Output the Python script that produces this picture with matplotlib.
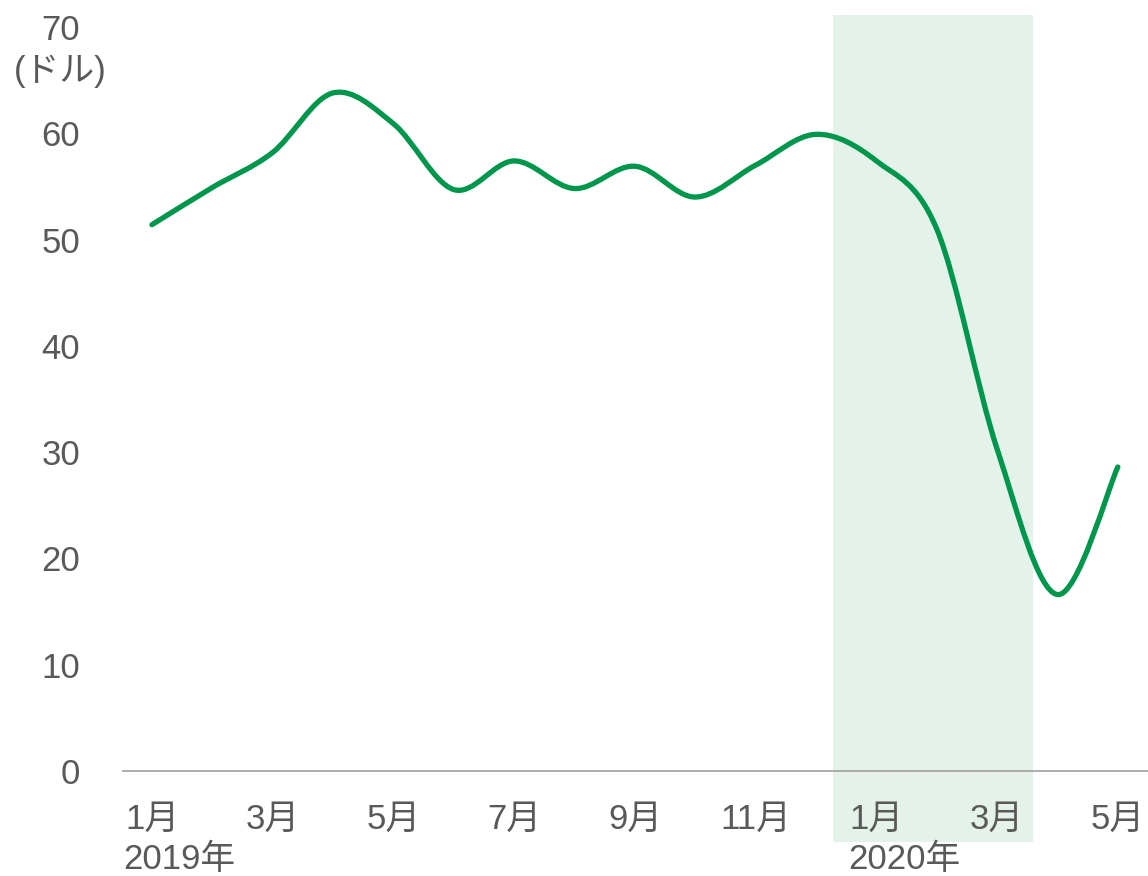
import matplotlib
matplotlib.use("Agg")
import matplotlib.pyplot as plt
from matplotlib.path import Path
from matplotlib.patches import PathPatch
import matplotlib.transforms as mtransforms
import numpy as np

# ---- data ----
months = ["1月", "2月", "3月", "4月", "5月", "6月", "7月", "8月", "9月", "10月", "11月", "12月",
          "1月", "2月", "3月", "4月", "5月"]
prices = [51.4, 54.9, 58.2, 63.8, 60.9, 54.7, 57.4, 54.8, 56.9, 54.0, 57.0, 59.9,
          57.4, 51.0, 30.3, 16.6, 28.6]
tick_idx = [0, 2, 4, 6, 8, 10, 12, 14, 16]
year_labels = ["2019年", "2020年"]
year_idx = [0, 12]
shade_span = (11.28, 14.6)
y_ticks = [0, 10, 20, 30, 40, 50, 60, 70]
unit_label = "(ドル)"

W, H = 1148, 876
fig = plt.figure(figsize=(W / 100, H / 100), dpi=100)
ax = fig.add_axes([123 / W, (H - 771) / H, (W - 123) / W, (771 - 27) / H])

FAM = ["Liberation Sans", "Noto Sans CJK JP", "DejaVu Sans"]
TXT = "#595959"
FS = 25

x = np.arange(len(prices), dtype=float)
y = np.array(prices, dtype=float)

ax.set_xlim(-0.48, 16.5)
ax.set_ylim(0, 70)

# shaded period
shade = plt.Rectangle((shade_span[0], -6.7), shade_span[1] - shade_span[0], 77.8,
                      facecolor="#E4F2EA", edgecolor="none", clip_on=False, zorder=0,
                      transform=ax.transData)
ax.add_patch(shade)

# smoothed line (Catmull-Rom style Bezier through data points)
pts = np.column_stack([x, y])
verts = [pts[0]]
codes = [Path.MOVETO]
n = len(pts)
for i in range(n - 1):
    p0 = pts[i - 1] if i > 0 else pts[i]
    p1 = pts[i]
    p2 = pts[i + 1]
    p3 = pts[i + 2] if i + 2 < n else pts[i + 1]
    c1 = p1 + (p2 - p0) / 6.0
    c2 = p2 - (p3 - p1) / 6.0
    verts += [c1, c2, p2]
    codes += [Path.CURVE4] * 3
path = Path(verts, codes)
ax.add_patch(PathPatch(path, facecolor="none", edgecolor="#00964B", lw=3.8,
                       capstyle="round", joinstyle="round", zorder=3))

# axes styling
for s in ["top", "right", "left"]:
    ax.spines[s].set_visible(False)
ax.spines["bottom"].set_color("#A6A6A6")
ax.spines["bottom"].set_linewidth(1.3)
ax.tick_params(axis="both", length=0)

ax.set_yticks(y_ticks)
ax.set_yticklabels([str(v) for v in y_ticks], fontsize=FS, color=TXT, family=FAM)
ax.tick_params(axis="y", pad=31)

ax.set_xticks(tick_idx)
ax.set_xticklabels([months[i] for i in tick_idx], fontsize=FS, color=TXT, family=FAM)
ax.tick_params(axis="x", pad=23)

# year labels
trans = mtransforms.blended_transform_factory(ax.transData, fig.transFigure)
for lab, i in zip(year_labels, year_idx):
    ax.text(i - 0.47, (H - 859) / H, lab, transform=trans, ha="left", va="center",
            fontsize=FS, color=TXT, family=FAM, clip_on=False)

# unit label
fig.text(60 / W, (H - 71) / H, unit_label, ha="center", va="center",
         fontsize=FS, color=TXT, family=FAM)

fig.savefig("out.png", dpi=100)
